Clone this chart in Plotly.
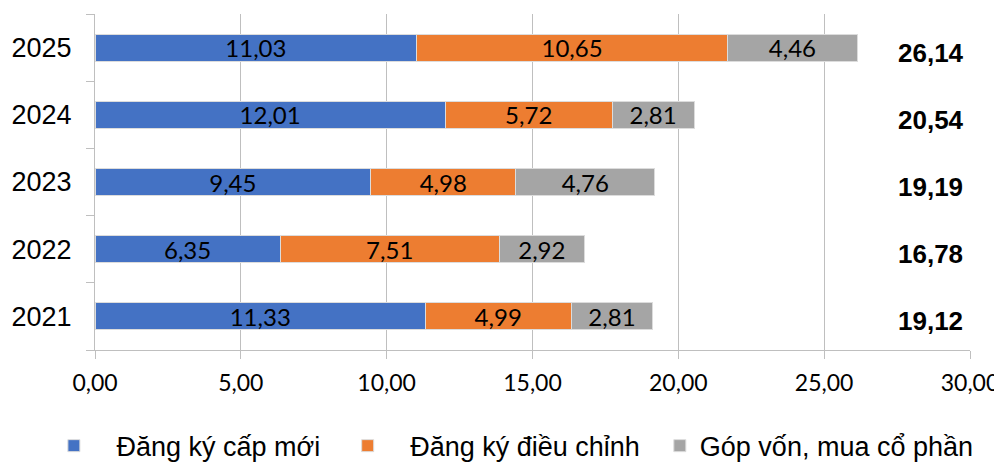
import plotly.graph_objects as go

years = ["2021", "2022", "2023", "2024", "2025"]
dang_ky_moi = [11.33, 6.35, 9.45, 12.01, 11.03]
dieu_chinh = [4.99, 7.51, 4.98, 5.72, 10.65]
gop_von = [2.81, 2.92, 4.76, 2.81, 4.46]
totals = [19.12, 16.78, 19.19, 20.54, 26.14]

NB = "\u00a0"
series = [
    (NB * 3 + "Đăng ký cấp mới" + NB * 3, dang_ky_moi, "#4472C4"),
    (NB * 3 + "Đăng ký điều chỉnh" + NB * 2, dieu_chinh, "#ED7D31"),
    ("Góp vốn, mua cổ phần", gop_von, "#A5A5A5"),
]

fig = go.Figure()
for name, vals, color in series:
    fig.add_trace(go.Bar(
        y=years,
        x=vals,
        name=name,
        orientation="h",
        marker=dict(color=color, line=dict(color="#dcdcdc", width=1)),
        texttemplate="%{x:.2f}",
        textposition="inside",
        insidetextanchor="middle",
        textfont=dict(family="Lato, Open Sans, sans-serif", size=24, color="black"),
        constraintext="none",
    ))

# tổng cộng bên phải (y theo chỉ số danh mục)
for i, tot in enumerate(totals):
    fig.add_annotation(
        x=0.955, xref="paper", xanchor="center", y=i, yref="y",
        text="<b>" + f"{tot:.2f}".replace(".", ",") + "</b>",
        showarrow=False, yshift=-5,
        font=dict(family="Liberation Sans, Arial", size=26, color="black"),
    )

# trang html có lề body 8px nên lề figure trừ bớt 8px
fig.update_layout(
    barmode="stack",
    bargap=0.6,
    separators=",.",
    width=994,
    height=455,
    margin=dict(l=87, r=32, t=6, b=113, autoexpand=False),
    plot_bgcolor="white",
    paper_bgcolor="white",
    font=dict(family="Liberation Sans, Arial", color="black"),
    legend=dict(
        orientation="h", x=-0.047, xanchor="left", y=-0.286, yanchor="middle",
        font=dict(family="Liberation Sans, Arial", size=27, color="black"),
        traceorder="normal",
    ),
    xaxis=dict(
        range=[0, 30], dtick=5, tickformat=".2f",
        showgrid=True, gridcolor="#bfbfbf", gridwidth=1,
        showline=True, linecolor="#bfbfbf", linewidth=1,
        ticks="outside", ticklen=8, tickcolor="#bfbfbf",
        tickfont=dict(family="Lato, Open Sans, sans-serif", size=23, color="black"),
        ticklabelstandoff=4,
        zeroline=False, automargin=False,
    ),
    yaxis=dict(
        type="category", range=[-0.5, 4.5],
        showline=True, linecolor="#bfbfbf", linewidth=1,
        ticks="outside", ticklen=8, tickcolor="#bfbfbf", tickson="boundaries",
        tickfont=dict(family="Liberation Sans, Arial", size=27, color="black"),
        ticklabelstandoff=17,
        showgrid=False, automargin=False,
    ),
)

fig.write_html("out.html")
